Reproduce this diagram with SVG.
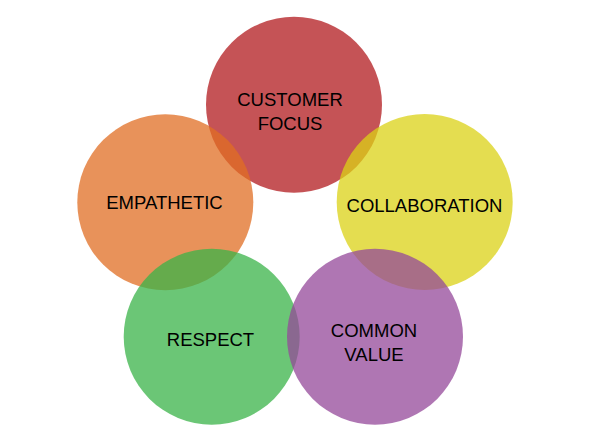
<svg xmlns="http://www.w3.org/2000/svg" width="590" height="442" viewBox="0 0 590 442">
<style>
.c{opacity:0.75}
.t{font-family:"Liberation Sans",Arial,sans-serif;font-size:18.5px;fill:#000;text-anchor:middle}
</style>
<rect width="590" height="442" fill="#fff"/>
<g id="customer-focus"><circle class="c" cx="294" cy="104.7" r="88" fill="#B21A1E"/><text class="t" x="290" y="106">CUSTOMER</text><text class="t" x="290" y="130">FOCUS</text></g>
<g id="collaboration"><circle class="c" cx="424.7" cy="202" r="88" fill="#DBD216"/><text class="t" x="424.5" y="212">COLLABORATION</text></g>
<g id="empathetic"><circle class="c" cx="165.3" cy="202.3" r="88" fill="#E06E23"/><text class="t" x="164.5" y="209">EMPATHETIC</text></g>
<g id="respect"><circle class="c" cx="211.7" cy="336.7" r="88" fill="#3AB348"/><text class="t" x="210.5" y="346">RESPECT</text></g>
<g id="common-value"><circle class="c" cx="375" cy="336.7" r="88" fill="#94489A"/><text class="t" x="374" y="337">COMMON</text><text class="t" x="374" y="361">VALUE</text></g>
<g id="connectors"/>
</svg>
